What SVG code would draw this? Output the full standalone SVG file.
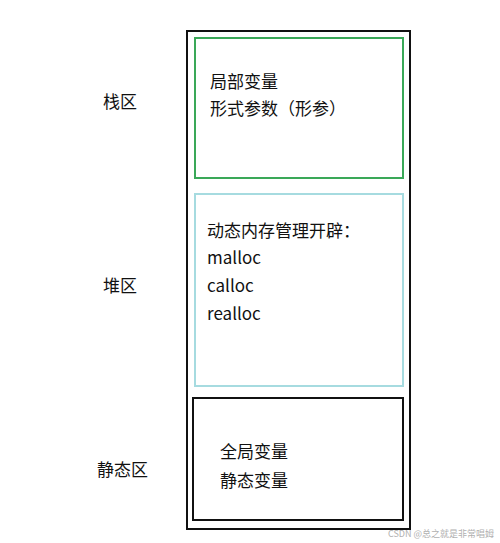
<svg xmlns="http://www.w3.org/2000/svg" width="500" height="543" viewBox="0 0 500 543">
<style>
text{font-family:"Noto Sans CJK SC","Noto Sans",sans-serif;fill:#111;}
.t{font-size:17px;}
.lab{font-size:17px;}
.wm{font-size:9px;fill:#b0b0b0;}
</style>
<rect width="500" height="543" fill="#fff"/>
<g id="memory">
<rect x="187" y="31" width="223" height="498" fill="none" stroke="#111" stroke-width="2"/>
</g>
<g id="stack">
<rect x="195" y="38" width="208" height="140" fill="none" stroke="#3aa858" stroke-width="2"/>
<text class="t" x="210" y="88">局部变量</text>
<text class="t" x="210" y="115">形式参数（形参）</text>
</g>
<g id="heap">
<rect x="195" y="194" width="208" height="192" fill="none" stroke="#a6dbe0" stroke-width="2"/>
<text class="t" x="207" y="237">动态内存管理开辟：</text>
<text class="t" x="207" y="264">malloc</text>
<text class="t" x="207" y="292">calloc</text>
<text class="t" x="207" y="320">realloc</text>
</g>
<g id="static">
<rect x="193" y="398" width="210" height="122" fill="none" stroke="#111" stroke-width="2"/>
<text class="t" x="220" y="458">全局变量</text>
<text class="t" x="220" y="487">静态变量</text>
</g>
<g id="labels">
<text class="lab" x="103" y="108">栈区</text>
<text class="lab" x="103" y="292">堆区</text>
<text class="lab" x="97" y="476">静态区</text>
</g>
<g id="connectors"></g>
<text class="wm" x="388" y="537">CSDN @总之就是非常唱姆</text>
</svg>
